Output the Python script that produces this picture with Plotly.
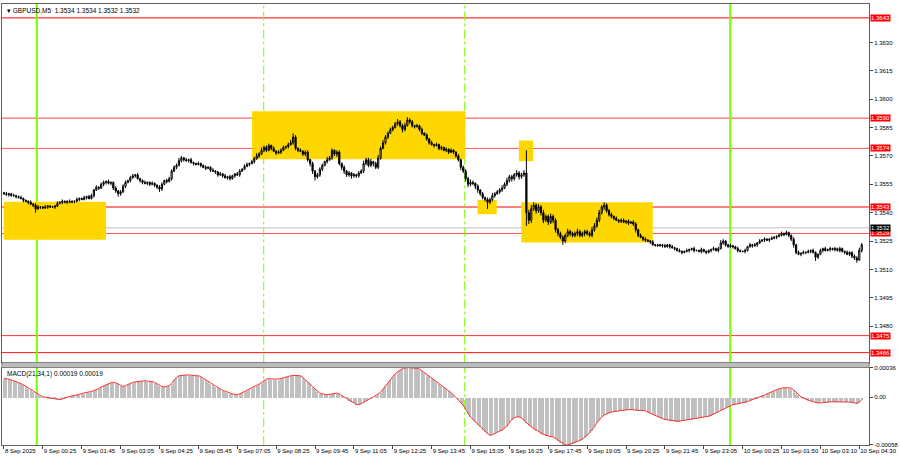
import plotly.graph_objects as go

# ---------------- data ----------------
SYMBOL_TITLE = "\u25be GBPUSD,M5  1.3534 1.3534 1.3532 1.3532"
MACD_TITLE = "MACD(21,34,1) 0.00019 0.00019"
BASE_PRICE = 1.3500
PIP = 0.0001

# close of each 5-minute bar, in pips above 1.3500
CLOSE_PIPS = [
    50, 49.5, 50, 49, 49, 48.5, 48, 47.5, 46.5, 46,
    45.5, 44.5, 44, 42, 43, 43, 42.5, 43, 43.5, 43,
    43, 43.5, 45, 45.5, 46, 45.5, 46, 45.5, 46, 46,
    47, 47.5, 47, 48, 48.5, 47.5, 49, 52, 53.5, 53,
    55, 56, 56.5, 55.5, 56, 53, 51.5, 50, 51, 54,
    56, 57, 58.5, 59.5, 60, 58, 57, 56, 55.5, 56,
    55, 55.5, 54.5, 53.5, 52.5, 55, 57, 56.5, 58, 62,
    64, 65, 67.5, 69, 68, 67.5, 68, 66.5, 66, 65.5,
    66, 65, 64, 63.5, 64, 62.5, 62, 61.5, 60, 60.5,
    59.5, 58.5, 59, 58, 59.5, 60.5, 60, 62, 63, 64.5,
    65.5, 66, 67, 68.5, 70, 71, 73, 74.5, 73, 75.5,
    74, 72.5, 71.5, 72, 73, 74.5, 75, 76, 77, 80,
    74, 73, 72.5, 71, 72, 68, 66, 62, 59, 60,
    63, 65, 67, 68, 69, 73, 71, 72, 66, 64,
    62, 60, 61, 59.5, 60, 59.5, 61, 62, 66, 68,
    65, 67, 66, 64, 69, 74, 77, 80, 82, 84,
    85, 87, 88, 86, 84, 86, 89, 88, 86, 85.5,
    86, 84, 82, 81, 79, 77, 76, 75.5, 76, 74,
    74.5, 73, 73.5, 72, 73, 72, 70, 68, 64, 62,
    58, 55, 56, 55.5, 54, 52, 50, 48, 47, 45.5,
    47, 49, 50, 51, 52, 53, 55, 57, 59, 58,
    60, 61, 59, 60, 61, 40, 36, 42, 44, 41,
    43, 40, 36, 38, 35, 38, 36, 31, 29, 27,
    25, 28, 30, 29, 28, 29, 30, 28, 29, 30,
    29, 28, 31, 33, 36, 40, 43, 44, 41, 39,
    38, 37, 36, 35.5, 36, 35, 35.5, 34.5, 35, 34,
    31, 28, 27, 26, 25.5, 25, 24.5, 23, 23, 22.5,
    23, 22.5, 22, 23, 22, 21.5, 21, 20, 19.5, 19,
    19.5, 20, 20.5, 21, 20, 20, 19.5, 20.5, 19.5, 19,
    20, 20.5, 21, 20, 21, 24, 25, 23, 22, 22.5,
    22, 21, 20, 19.5, 19.5, 20, 22, 23, 22.5, 23,
    24, 25, 25.5, 26, 25.5, 26, 26.5, 27, 27.5, 28,
    29, 28.5, 29.5, 28, 26, 23, 19, 18, 18.5, 19,
    19, 19.5, 20, 19, 16.5, 18, 20, 21, 20, 20.5,
    21, 20.5, 21, 20, 21, 19.5, 19, 18, 19, 17,
    16, 15, 20, 23,
]
FIRST_OPEN_PIPS = 50.5

# upper / lower wick lengths of each bar, in half-pips
UPPER_WICK = (
    "1 2 1 1 2 1 1 2 1 1  1 2 1 2 2 1 1 2 1 1  1 1 2 1 2 1 1 2 1 1  2 1 1 2 1 2 2 1 2 1 "
    "2 2 1 2 1 1 2 1 2 2  2 1 2 2 1 2 1 1 2 1  1 2 1 1 2 2 1 2 2 2  2 2 3 2 1 2 1 2 1 1 "
    "2 1 1 2 1 1 2 1 1 2  1 2 1 2 1 1 2 2 1 2  2 1 2 2 3 2 3 2 2 2  1 2 1 2 2 2 1 2 3 4 "
    "2 1 2 1 2 2 1 2 1 2  2 2 1 3 2 2 1 2 2 1  2 1 2 1 2 1 2 2 3 2  2 3 1 2 3 2 3 2 2 2 "
    "2 2 3 2 2 3 3 2 2 1  2 1 2 1 2 1 2 1 2 1  2 1 2 1 2 1 1 2 1 2  2 2 3 2 1 2 1 2 1 2 "
    "2 3 2 2 2 3 2 3 2 2  2 3 2 2 3 24 3 4 3 2  3 2 3 2 2 3 2 2 2 2  2 2 3 2 2 2 3 2 2 2 "
    "2 2 3 3 3 3 2 3 2 2  2 1 2 1 2 2 1 2 1 2  2 1 2 1 2 1 1 2 1 1  1 1 2 1 1 2 1 1 2 1 "
    "1 2 1 1 2 1 1 2 1 1  1 1 2 1 2 3 2 1 1 2  1 1 2 1 1 2 1 2 1 2  1 2 1 2 1 1 2 1 1 2 "
    "2 1 2 1 1 2 1 2 1 2  1 2 1 2 1 1 2 1 2 1  2 1 2 1 2 1 1 2 1 1  2 2 3 2"
)
LOWER_WICK = (
    "1 1 2 1 1 2 1 1 2 1  2 1 2 4 1 2 1 1 2 1  1 2 1 1 2 1 2 1 1 2  1 2 1 1 2 1 1 2 1 2 "
    "1 2 2 1 2 2 2 3 2 1  2 1 2 1 2 1 2 2 1 2  2 1 2 2 3 2 1 2 1 2  1 2 1 2 2 1 2 1 2 1 "
    "1 2 1 2 1 2 1 2 2 1  2 1 2 2 1 2 1 2 1 1  1 2 1 2 1 2 1 2 2 1  2 1 2 1 2 1 2 2 1 2 "
    "2 2 1 2 2 2 3 3 4 2  2 2 1 2 1 2 2 3 2 3  3 2 2 3 2 2 2 1 2 2  2 2 3 2 2 2 1 2 2 1 "
    "2 1 2 2 3 2 1 2 2 2  1 2 2 1 2 2 1 2 1 2  2 1 2 2 1 2 2 2 3 2  3 3 2 2 3 3 2 2 2 7 "
    "2 2 2 1 2 2 1 2 2 3  2 2 3 2 2 14 4 3 2 3  2 3 3 2 3 2 3 3 3 2  4 2 2 3 2 2 3 2 2 3 "
    "2 2 2 2 2 2 2 3 2 2  2 2 1 2 2 1 2 2 1 2  3 2 1 2 2 1 2 1 2 1  1 2 1 1 2 1 2 1 1 2 "
    "1 1 2 1 2 1 1 2 1 2  1 2 1 1 2 1 2 2 1 1  2 1 2 1 1 2 1 1 2 1  2 1 1 2 1 2 1 1 2 1 "
    "1 2 1 2 2 3 2 1 2 1  2 1 2 1 4 2 1 2 1 1  2 1 2 1 2 1 2 1 2 2  2 3 1 2"
)

# MACD(21,34,1) main value of each bar, in units of 1e-5
MACD_E5 = [
    23, 22.5, 22, 21, 20, 19, 18, 16.5, 15, 13,
    11, 9, 7, 5, 3.5, 2, 0.5, 0, -0.5, -1,
    -1.5, -2, -2.5, -3, -2, -1, 0.5, 1, 1.5, 2,
    3, 3.5, 4.5, 5, 5.5, 6, 7, 8, 9, 10.5,
    12.5, 14, 15.5, 16.5, 17.5, 18, 17.5, 16, 14.5, 13,
    14, 15.5, 17, 18, 18.5, 19, 19.5, 20, 20, 19.5,
    19.5, 19, 18, 16, 14, 13, 12.5, 13, 14, 17,
    21, 24, 26, 26.5, 27, 27, 27, 26.5, 26.5, 26,
    26, 25, 23, 21, 19, 17, 15, 13, 11.5, 10,
    8.5, 7, 6, 5, 4, 3.5, 3, 4, 5.5, 7,
    8, 9.5, 11, 12.5, 14, 16, 18, 20, 22, 22.5,
    22, 22, 22, 22, 22.5, 23.5, 24.5, 25.5, 26, 26.5,
    26.5, 26.5, 26, 24, 21.5, 19, 16, 13, 10, 7,
    5, 4, 3.5, 3, 3.5, 4, 5, 5, 4, 2.5,
    0.5, -1.5, -3.5, -5.5, -7, -8.5, -9, -8, -6, -4,
    -3, -1.5, 0, 2, 4, 6, 10, 14, 18, 22,
    25.5, 28.5, 31, 33, 34.5, 35.5, 36, 36, 35.5, 35.5,
    35, 34, 32, 30, 28, 26, 24, 21.5, 19, 16.5,
    14.5, 12.5, 10, 8, 5.5, 3, 0, -3, -6, -10,
    -15, -20, -24, -27, -30, -33, -36, -39, -42, -44,
    -46, -45.5, -44, -42, -41, -40, -38, -35, -31, -27,
    -25, -24, -24, -25, -28, -31, -34, -36, -38, -40,
    -42, -43.5, -45, -46, -47, -48, -48, -50, -53, -55,
    -57, -58, -58, -57, -56, -55, -54, -52.5, -51, -49,
    -46, -43, -40, -36, -31, -27, -24, -21.5, -20, -19,
    -18, -17.5, -17, -16.5, -16, -15.5, -15, -15, -15, -15.5,
    -15.5, -16, -16, -16, -16.5, -18, -19.5, -21, -22.5, -24,
    -25, -26, -27, -27.5, -28, -28.5, -29, -29, -29, -28.5,
    -28, -27.5, -27, -26.5, -26, -25.5, -25, -24.5, -24, -24,
    -23, -22, -20.5, -19, -17.5, -16, -14.5, -13, -11, -10,
    -9, -8.5, -8, -7.5, -7, -6.5, -5.5, -4, -3, -2,
    -1, 0, 1, 2.5, 4, 5.5, 7, 8.5, 9.5, 10.5,
    11, 11.5, 11.5, 11.5, 11, 9, 6, 3, 0.5, -1,
    -2.5, -3.5, -4.5, -5.5, -6.5, -7, -7, -6.5, -6, -6,
    -5.5, -5.5, -5.5, -5.5, -5.5, -5.5, -5.5, -5.5, -5.5, -6,
    -7, -7.5, -6, -3,
]

# time axis labels, one every 16 bars
TIME_LABELS = [
    "8 Sep 2025", "9 Sep 00:25", "9 Sep 01:45", "9 Sep 03:05", "9 Sep 04:25",
    "9 Sep 05:45", "9 Sep 07:05", "9 Sep 08:25", "9 Sep 09:45", "9 Sep 11:05",
    "9 Sep 12:25", "9 Sep 13:45", "9 Sep 15:05", "9 Sep 16:25", "9 Sep 17:45",
    "9 Sep 19:05", "9 Sep 20:25", "9 Sep 21:45", "9 Sep 23:05", "10 Sep 00:25",
    "10 Sep 01:50", "10 Sep 03:10", "10 Sep 04:30",
]
TIME_LABEL_EVERY = 16

PRICE_TICKS = [1.3480, 1.3495, 1.3510, 1.3525, 1.3540, 1.3555, 1.3570,
               1.3585, 1.3600, 1.3615, 1.3630]
LEVELS = [1.3643, 1.3590, 1.3574, 1.3543, 1.3529, 1.3475, 1.3466]
CURRENT_PRICE = 1.3532
MACD_TICKS = [0.00036, 0.0, -0.00058]
MACD_TICK_TEXT = ["0.00036", "0.00", "-0.00058"]

# yellow zones (bar index from/to, price low/high)
ZONE_FROM = [-0.1, 102.1, 194.9, 211.9, 212.9]
ZONE_TO = [42.0, 189.9, 202.8, 217.8, 267.0]
ZONE_LOW = [1.35257, 1.35683, 1.35392, 1.35672, 1.35243]
ZONE_HIGH = [1.35458, 1.35936, 1.35467, 1.35782, 1.35455]

# vertical session lines (bar index) and whether solid
SESSION_AT = [13.5, 106.9, 189.6, 298.9]
SESSION_SOLID = [True, False, False, True]

# ---------------- build ----------------
up = [int(v) for v in UPPER_WICK.split()]
dn = [int(v) for v in LOWER_WICK.split()]
n = len(CLOSE_PIPS)
assert len(up) == n and len(dn) == n and len(MACD_E5) == n, (n, len(up), len(dn), len(MACD_E5))

idx = list(range(n))
close = [BASE_PRICE + c * PIP for c in CLOSE_PIPS]
opens = [BASE_PRICE + FIRST_OPEN_PIPS * PIP] + close[:-1]
high = [max(o, c) + u * PIP / 2 for o, c, u in zip(opens, close, up)]
low = [min(o, c) - d * PIP / 2 for o, c, d in zip(opens, close, dn)]
macd = [v * 1e-5 for v in MACD_E5]

FONT = "Liberation Sans"
FS = 6
MAIN_DOM = [0.18694, 1.0]
MACD_DOM = [0.0, 0.17568]
X_RANGE = [-0.82, 356.0]

fig = go.Figure()
fig.add_trace(go.Candlestick(
    x=idx, open=opens, high=high, low=low, close=close,
    increasing=dict(line=dict(color="black", width=1), fillcolor="white"),
    decreasing=dict(line=dict(color="black", width=1), fillcolor="black"),
    whiskerwidth=0, xaxis="x", yaxis="y", showlegend=False, hoverinfo="skip",
))
fig.add_trace(go.Bar(
    x=idx, y=macd, width=0.45, marker=dict(color="#C0C0C0", line=dict(width=0)),
    xaxis="x2", yaxis="y2", showlegend=False, hoverinfo="skip",
))
fig.add_trace(go.Scatter(
    x=idx, y=macd, mode="lines", line=dict(color="#FF3030", width=1),
    xaxis="x2", yaxis="y2", showlegend=False, hoverinfo="skip",
))

shapes = []
for x0, x1, lo, hi in zip(ZONE_FROM, ZONE_TO, ZONE_LOW, ZONE_HIGH):
    shapes.append(dict(type="rect", xref="x", yref="y", x0=x0, x1=x1, y0=lo, y1=hi,
                       fillcolor="#FFD700", line=dict(width=0), layer="below"))

level_colors = ["#FF0000", "#FF4040", "#FF5050", "#FF0000", "#FF5050", "#FF3030", "#FF1010"]
for lv, col in zip(LEVELS, level_colors):
    shapes.append(dict(type="line", xref="paper", yref="y", x0=0, x1=1, y0=lv, y1=lv,
                       line=dict(color=col, width=1), layer="below"))
shapes.append(dict(type="line", xref="paper", yref="y", x0=0, x1=1,
                   y0=CURRENT_PRICE, y1=CURRENT_PRICE,
                   line=dict(color="#C0C0C0", width=1), layer="below"))

for xs, solid in zip(SESSION_AT, SESSION_SOLID):
    for yref in ("y domain", "y2 domain"):
        shapes.append(dict(type="line", xref="x", yref=yref, x0=xs, x1=xs, y0=0, y1=1,
                           line=dict(color="#7CFC00", width=2 if solid else 1,
                                     dash="solid" if solid else "dashdot"),
                           layer="below"))

# separator band between the panels
shapes.append(dict(type="rect", xref="paper", yref="paper", x0=0, x1=1,
                   y0=MACD_DOM[1], y1=MAIN_DOM[0], fillcolor="#BDBDBD",
                   line=dict(color="#808080", width=1)))

annotations = [
    dict(text=SYMBOL_TITLE, xref="paper", yref="paper", x=0.004, y=0.998,
         xanchor="left", yanchor="top", showarrow=False,
         font=dict(family=FONT, size=6.5, color="black")),
    dict(text=MACD_TITLE, xref="paper", yref="y2 domain", x=0.004, y=0.99,
         xanchor="left", yanchor="top", showarrow=False,
         font=dict(family=FONT, size=6.5, color="black")),
]
for lv in LEVELS:
    annotations.append(dict(text=f"{lv:.4f}", xref="paper", yref="y", x=1.0, y=lv,
                            xanchor="left", yanchor="middle", xshift=1, showarrow=False,
                            bgcolor="#FF0000", borderpad=0,
                            font=dict(family=FONT, size=FS, color="white")))
annotations.append(dict(text=f"{CURRENT_PRICE:.4f}", xref="paper", yref="y", x=1.0,
                        y=CURRENT_PRICE, xanchor="left", yanchor="middle", xshift=1,
                        showarrow=False, bgcolor="#000000", borderpad=0,
                        font=dict(family=FONT, size=FS, color="white")))

axis_common = dict(showgrid=False, zeroline=False, showline=True, linecolor="#606060",
                   linewidth=1, mirror=True)

fig.update_layout(
    width=900, height=460,
    margin=dict(l=1, r=25, t=1, b=15),
    paper_bgcolor="white", plot_bgcolor="white",
    font=dict(family=FONT, size=FS, color="black"),
    shapes=shapes, annotations=annotations,
    xaxis=dict(domain=[0, 1], anchor="y", range=X_RANGE, rangeslider=dict(visible=False),
               showticklabels=False, ticks="", **axis_common),
    yaxis=dict(domain=MAIN_DOM, anchor="x", side="right",
               range=[1.346075, 1.365035], tickvals=PRICE_TICKS,
               ticktext=[f"{t:.4f}" for t in PRICE_TICKS],
               ticks="outside", ticklen=3, tickcolor="#404040",
               tickfont=dict(family=FONT, size=FS, color="black"), **axis_common),
    xaxis2=dict(domain=[0, 1], anchor="y2", matches="x", range=X_RANGE,
                tickvals=[i * TIME_LABEL_EVERY for i in range(len(TIME_LABELS))],
                ticktext=TIME_LABELS, ticks="outside", ticklen=3, tickcolor="#404040",
                ticklabelposition="outside right", tickangle=0,
                tickfont=dict(family=FONT, size=FS, color="black"), **axis_common),
    yaxis2=dict(domain=MACD_DOM, anchor="x2", side="right",
                range=[-0.00058, 0.00036], tickvals=MACD_TICKS, ticktext=MACD_TICK_TEXT,
                ticks="outside", ticklen=3, tickcolor="#404040",
                tickfont=dict(family=FONT, size=FS, color="black"), **axis_common),
    bargap=0,
)

fig.write_html("out.html", config={"displayModeBar": False},
               post_script="document.body.style.margin='0';document.body.style.overflow='hidden';")
